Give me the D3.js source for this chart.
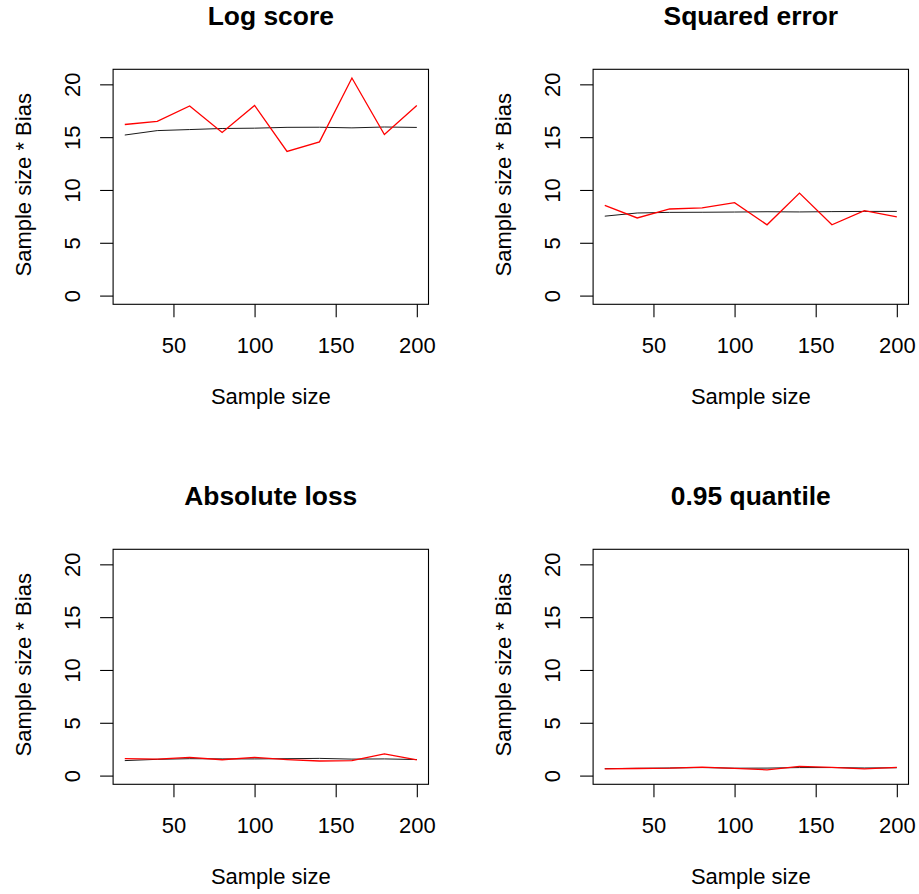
<!DOCTYPE html>
<html>
<head>
<meta charset="utf-8">
<script src="https://cdn.jsdelivr.net/npm/d3@7"></script>
<style>
  html, body { margin: 0; padding: 0; background: #fff; }
  svg { display: block; }
  text { font-family: "Liberation Sans", Arial, sans-serif; fill: #000; }
</style>
</head>
<body>
<svg id="chart" width="919" height="894"></svg>
<script>
// ---------------- data ----------------
const sampleSizes = [20, 40, 60, 80, 100, 120, 140, 160, 180, 200];
const panelTitles = ["Log score", "Squared error", "Absolute loss", "0.95 quantile"];

// red series (observed)
const logScoreRed      = [16.2, 16.5, 17.95, 15.45, 18.0, 13.65, 14.55, 20.6, 15.25, 18.0];
const squaredErrorRed  = [8.55, 7.35, 8.2, 8.3, 8.8, 6.7, 9.7, 6.7, 8.05, 7.45];
const absoluteLossRed  = [1.6, 1.55, 1.72, 1.5, 1.72, 1.52, 1.38, 1.42, 2.05, 1.48];
const quantileRed      = [0.64, 0.67, 0.7, 0.8, 0.68, 0.55, 0.88, 0.78, 0.63, 0.78];

// black series (theoretical / reference)
const logScoreBlack     = [15.2, 15.62, 15.72, 15.82, 15.85, 15.93, 15.94, 15.88, 15.96, 15.92];
const squaredErrorBlack = [7.52, 7.82, 7.88, 7.89, 7.91, 7.94, 7.92, 7.95, 7.97, 7.97];
const absoluteLossBlack = [1.42, 1.54, 1.6, 1.58, 1.58, 1.6, 1.63, 1.56, 1.58, 1.52];
const quantileBlack     = [0.66, 0.69, 0.72, 0.76, 0.7, 0.71, 0.76, 0.76, 0.72, 0.74];

const xTicks = [50, 100, 150, 200];
const yTicks = [0, 5, 10, 15, 20];
const yLimits = [0, 20.6];
const xLabel = "Sample size";
const yLabel = "Sample size * Bias";

const redSeries = [logScoreRed, squaredErrorRed, absoluteLossRed, quantileRed];
const blackSeries = [logScoreBlack, squaredErrorBlack, absoluteLossBlack, quantileBlack];

// ---------------- layout ----------------
const svg = d3.select("#chart");
const boxW = 315.4, boxH = 235;
const left0 = 113.1, top0 = 69.3;
const colStep = 480, rowStep = 480;
const fontSize = 22;

function extend(lo, hi) { const d = (hi - lo) * 0.04; return [lo - d, hi + d]; }

panelTitles.forEach((title, i) => {
  const col = i % 2, row = Math.floor(i / 2);
  const L = left0 + col * colStep, T = top0 + row * rowStep;
  const R = L + boxW, B = T + boxH;

  const x = d3.scaleLinear().domain(extend(d3.min(sampleSizes), d3.max(sampleSizes))).range([L, R]);
  const y = d3.scaleLinear().domain(extend(yLimits[0], yLimits[1])).range([B, T]);

  const g = svg.append("g");

  // lines
  const line = d3.line().x((d, j) => x(sampleSizes[j])).y(d => y(d));
  g.append("path").datum(blackSeries[i]).attr("d", line)
    .attr("fill", "none").attr("stroke", "#1a1a1a").attr("stroke-width", 1);
  g.append("path").datum(redSeries[i]).attr("d", line)
    .attr("fill", "none").attr("stroke", "#ff0000").attr("stroke-width", 1.3);

  // box
  g.append("rect").attr("x", L).attr("y", T).attr("width", boxW).attr("height", boxH)
    .attr("fill", "none").attr("stroke", "#000").attr("stroke-width", 1.1);

  // x axis
  const xa = g.append("g").attr("transform", `translate(0,${B})`)
    .call(d3.axisBottom(x).tickValues(xTicks).tickSize(13).tickSizeOuter(0).tickFormat(d3.format("d")));
  xa.select(".domain").remove();
  xa.selectAll(".tick line").attr("stroke", "#000").attr("stroke-width", 1.1);
  xa.selectAll(".tick text").attr("y", 49).attr("dy", null)
    .style("font-size", fontSize + "px").attr("fill", "#000");

  // y axis
  const ya = g.append("g").attr("transform", `translate(${L},0)`)
    .call(d3.axisLeft(y).tickValues(yTicks).tickSize(13).tickSizeOuter(0).tickFormat(d3.format("d")));
  ya.select(".domain").remove();
  ya.selectAll(".tick line").attr("stroke", "#000").attr("stroke-width", 1.1);
  ya.selectAll(".tick text").attr("x", 0).attr("y", -33).attr("dy", null)
    .attr("transform", "rotate(-90)").attr("text-anchor", "middle")
    .style("font-size", fontSize + "px").attr("fill", "#000");

  // title
  g.append("text").attr("x", (L + R) / 2).attr("y", 25 + row * rowStep)
    .attr("text-anchor", "middle").style("font-size", "26.4px").style("font-weight", "bold")
    .text(title);

  // x label
  g.append("text").attr("x", (L + R) / 2).attr("y", B + 100)
    .attr("text-anchor", "middle").style("font-size", fontSize + "px").text(xLabel);

  // y label
  g.append("text").attr("transform", `translate(${L - 82},${(T + B) / 2 - 2}) rotate(-90)`)
    .attr("text-anchor", "middle").style("font-size", fontSize + "px").text(yLabel);
});
</script>
</body>
</html>
